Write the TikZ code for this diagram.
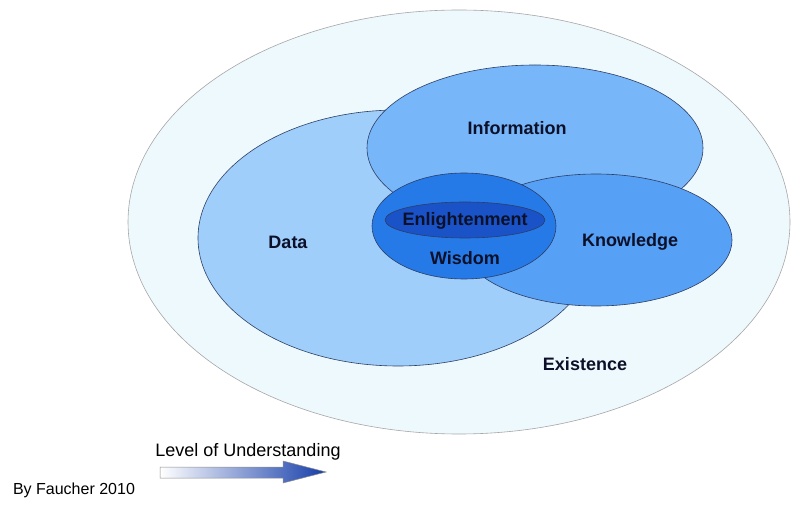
\documentclass[tikz,border=0pt]{standalone}
\usepackage{fontspec}
\setmainfont{Liberation Sans}
\usepackage{xcolor}
\usepackage{tikz}
\usetikzlibrary{shapes.geometric}

\definecolor{existfill}{RGB}{238,249,253}
\definecolor{datafill}{RGB}{160,206,250}
\definecolor{infofill}{RGB}{120,182,250}
\definecolor{knowfill}{RGB}{86,160,245}
\definecolor{wisdomfill}{RGB}{38,122,232}
\definecolor{enlightfill}{RGB}{26,82,200}
\definecolor{rimcolor}{RGB}{45,62,100}
\definecolor{labelcolor}{RGB}{12,16,40}
\definecolor{arrowblue}{RGB}{22,62,170}

\begin{document}
\begin{tikzpicture}[x=1pt, y=-1pt,
  blob/.style={ellipse, draw=rimcolor, line width=0.6pt, inner sep=0pt},
  tag/.style={text=labelcolor, font=\fontsize{18}{20}\selectfont\bfseries},
  note/.style={font=\fontsize{18}{20}\selectfont}]
\useasboundingbox (0,0) rectangle (795,518);
\node[blob, draw=gray!70, fill=existfill, minimum width=662pt, minimum height=424pt] (existence) at (459,222) {};
\node[blob, fill=datafill, minimum width=400pt, minimum height=256pt] (data) at (398,238) {};
\node[blob, fill=infofill, minimum width=336pt, minimum height=166pt] (info) at (535,148) {};
\node[blob, fill=knowfill, minimum width=272pt, minimum height=132pt] (know) at (596,240) {};
\node[blob, fill=wisdomfill, minimum width=184pt, minimum height=106pt] (wisdom) at (464,226) {};
\node[blob, fill=enlightfill, minimum width=160pt, minimum height=36pt] (enlight) at (465,220) {};

\node[tag] (infolabel) at (517,128) {Information};
\node[tag] (datalabel) at (288,242) {Data};
\node[tag] (knowlabel) at (630,242) {Knowledge};
\node[tag] (enlightlabel) at (465,221) {Enlightenment};
\node[tag] (wisdomlabel) at (465,258) {Wisdom};
\node[tag] (existlabel) at (585,364) {Existence};

\node[note] (levellabel) at (248,452) {Level of Understanding};
\shade[left color=white, right color=arrowblue, draw=gray!90, line width=0.5pt]
  (160,467) -- (283,467) -- (283,461) -- (326,472) -- (283,483) -- (283,478) -- (160,478) -- cycle;
\node[font=\fontsize{16}{18}\selectfont] (byline) at (74,490) {By Faucher 2010};
\end{tikzpicture}
\end{document}
